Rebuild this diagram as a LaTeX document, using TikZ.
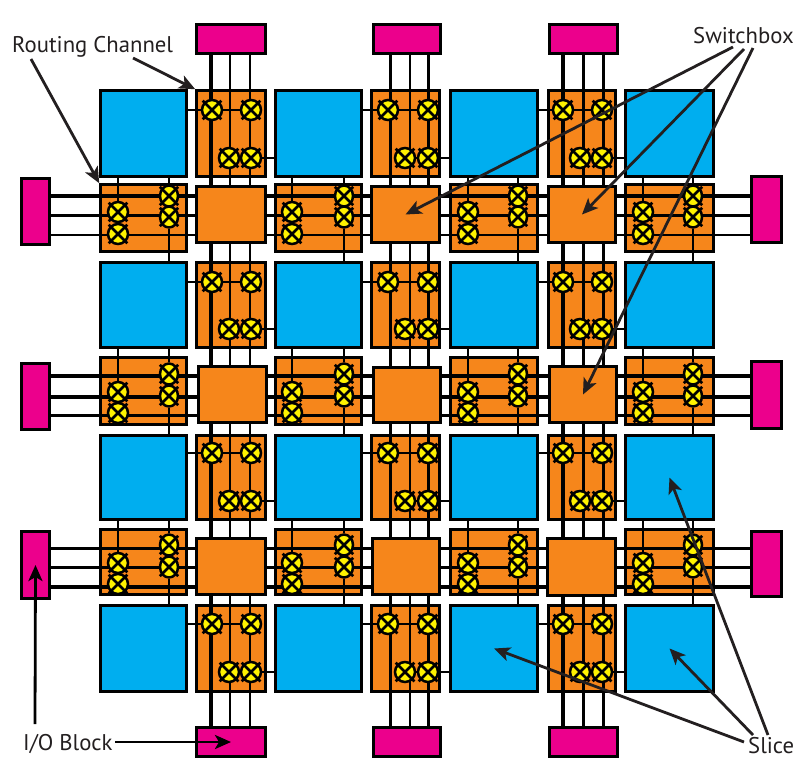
\documentclass[tikz,border=0pt]{standalone}
\usepackage{fontspec}
\setmainfont{PT Sans}
\usetikzlibrary{arrows.meta, shapes.geometric}
\definecolor{sliceblue}{HTML}{00AEEF}
\definecolor{chanorange}{HTML}{F6861B}
\definecolor{iopink}{HTML}{EC008C}
\definecolor{xyellow}{HTML}{FFF200}
\definecolor{inkgray}{HTML}{231F20}
\tikzset{
  blk/.style={draw=black, line width=3.2pt, inner sep=0pt},
  slice/.style={blk, fill=sliceblue},
  chan/.style={blk, fill=chanorange},
  ioblk/.style={blk, fill=iopink},
  wire/.style={draw=black},
  link/.style={draw=black, line width=2.6pt},
  xpt/.style={circle, draw=black, fill=xyellow, line width=2.5pt, inner sep=0pt, minimum size=20pt},
  xptoval/.style={ellipse, draw=black, fill=xyellow, line width=2.5pt, inner sep=0pt, minimum width=18pt, minimum height=21pt},
  xbar/.style={draw=black, line width=2.7pt, shorten >=-2pt, shorten <=-2pt},
  lbl/.style={text=inkgray, inner sep=0pt, anchor=base west, font=\fontsize{22.7}{27}\selectfont},
  callout/.style={draw=inkgray, line width=2.8pt, -{Stealth[length=16pt, width=14pt, inset=4pt]}},
}
\newcommand{\blkat}[6]{\node[#1, minimum width=#5-#3-1.6, minimum height=#6-#4-1.6] (#2) at ({(#3+#5)/2},{(#4+#6)/2}) {};}
\newcommand{\xcross}[4][xpt]{\node[#1] (#2) at (#3,#4) {};
  \draw[xbar] (#2.45) -- (#2.225);
  \draw[xbar] (#2.135) -- (#2.315);}
\begin{document}
\begin{tikzpicture}[x=1pt, y=-1pt]
  \useasboundingbox (0,0) rectangle (809,780);
  % slices and channel boxes
  \foreach \col/\xa/\xb in {1/100/187,2/275/362,3/450/538,4/625/714} {
    \foreach \row/\ya/\yb in {1/90/177,2/262/348,3/435/520,4/605/692} {
      \blkat{slice}{s\col\row}{\xa}{\ya}{\xb}{\yb}
    }
  }
  \foreach \col/\xa/\xb in {1/196/266,2/371/440,3/548/616} {
    \foreach \row/\ya/\yb in {1/90/177,2/262/348,3/435/520,4/605/692} {
      \blkat{chan}{v\col\row}{\xa}{\ya}{\xb}{\yb}
    }
  }
  \foreach \col/\xa/\xb in {1/100/187,2/275/362,3/450/538,4/625/714} {
    \foreach \row/\ya/\yb in {1/184/252,2/357/425,3/529/595} {
      \blkat{chan}{h\col\row}{\xa}{\ya}{\xb}{\yb}
    }
  }
  % i/o blocks
  \foreach \col/\xa/\xb in {1/196/266,2/373/441,3/549/618} {
    \blkat{ioblk}{iot\col}{\xa}{24}{\xb}{54}
    \blkat{ioblk}{iob\col}{\xa}{727}{\xb}{757}
  }
  \foreach \row/\ya/\yb/\yc/\yd in {1/178/245/176/243,2/363/430/361/429,3/531/599/531/597} {
    \blkat{ioblk}{iol\row}{21}{\ya}{50}{\yb}
    \blkat{ioblk}{ior\row}{751}{\yc}{782}{\yd}
  }
  % wires run under the switchboxes
  \foreach \col/\xw/\lw in {1/211/3.5,1/230/2.5,1/250/2.5,2/390/3,2/410/2.5,2/428/3,3/563/3.5,3/583/3,3/603/3}
    \draw[wire, line width=\lw pt] (\xw,0 |- iot\col.south) -- (\xw,0 |- iob\col.north);
  \foreach \row/\yw/\lw in {1/196/3.5,1/215/3,1/235/2.5,2/376/3.5,2/397/3.5,2/415/3,3/548/3,3/567/3,3/587/3.5}
    \draw[wire, line width=\lw pt] (iol\row.east |- 0,\yw) -- (ior\row.west |- 0,\yw);
  % switchboxes
  \foreach \col/\row/\xa/\ya/\xb/\yb in {1/1/196/186/266/243,2/1/371/186/440/243,3/1/548/186/616/243,
      1/2/198/366/267/423,2/2/373/367/441/423,3/2/549/366/617/423,
      1/3/196/538/266/595,2/3/372/538/440/595,3/3/547/538/616/596} {
    \blkat{chan}{sw\col\row}{\xa}{\ya}{\xb}{\yb}
  }
  % crossbars in the vertical channels
  \foreach \col/\xl/\xm/\xr in {1/212/229/251,2/388/405/428,3/563/580/602} {
    \foreach \row/\yu/\yd in {1/110/158,2/282/329,3/453/501,4/624/672} {
      \pgfmathtruncatemacro\coln{\col+1}
      \xcross{va\col\row}{\xl}{\yu}
      \xcross{vb\col\row}{\xr}{\yu}
      \xcross{vc\col\row}{\xm}{\yd}
      \xcross{vd\col\row}{\xr}{\yd}
      \draw[link] (s\col\row.east |- va\col\row) -- (va\col\row);
      \draw[link] (va\col\row) -- (vb\col\row);
      \draw[link] (vc\col\row) -- (vd\col\row);
      \draw[link] (vd\col\row) -- (s\coln\row.west |- vd\col\row);
    }
  }
  % crossbars in the horizontal channels
  \foreach \row/\ya/\yb/\yc/\yd in {1/212/234/196/217,2/392/413/374/396,3/563/584/545/567} {
    \foreach \col/\xl/\xr in {1/118/169,2/292/344,3/468/518,4/643/693} {
      \pgfmathtruncatemacro\rown{\row+1}
      \xcross{ha\col\row}{\xl}{\ya}
      \xcross{hb\col\row}{\xl}{\yb}
      \xcross[xptoval]{hc\col\row}{\xr}{\yc}
      \xcross[xptoval]{hd\col\row}{\xr}{\yd}
      \draw[link] (s\col\row.south -| ha\col\row) -- (ha\col\row);
      \draw[link] (s\col\row.south -| hc\col\row) -- (hc\col\row);
      \draw[link] (hd\col\row) -- (s\col\rown.north -| hd\col\row);
    }
  }
  % labels
  \node[lbl] (rclbl) at (12,52) {Routing Channel};
  \node[lbl] (sblbl) at (693,43) {Switchbox};
  \node[lbl] (iolbl) at (23,750) {I/O Block};
  \node[lbl] (sllbl) at (748,753) {Slice};
  % callouts
  \coordinate (rca) at (31,59);
  \coordinate (rcb) at (133,58);
  \coordinate (sba) at (733,47);
  \coordinate (sbb) at (744,49);
  \coordinate (sbc) at (753,48);
  \coordinate (sla) at (744,742);
  \coordinate (slb) at (753,735);
  \coordinate (slc) at (768,735);
  \coordinate (ioa) at (35,724);
  \coordinate (ioc) at (115,742);
  \draw[callout] (rca) -- (h11.north west);
  \draw[callout] (rcb) -- (v11.north west);
  \draw[callout] (sba) -- (sw21.center);
  \draw[callout] (sbb) -- (sw31.center);
  \draw[callout] (sbc) -- (sw32.center);
  \draw[callout] (sla) -- (s34.center);
  \draw[callout] (slb) -- (s44.center);
  \draw[callout] (slc) -- (s43.center);
  \draw[callout, draw=black] (ioa) -- (iol3.center);
  \draw[callout, draw=black] (ioc) -- (iob1.center);
\end{tikzpicture}
\end{document}
